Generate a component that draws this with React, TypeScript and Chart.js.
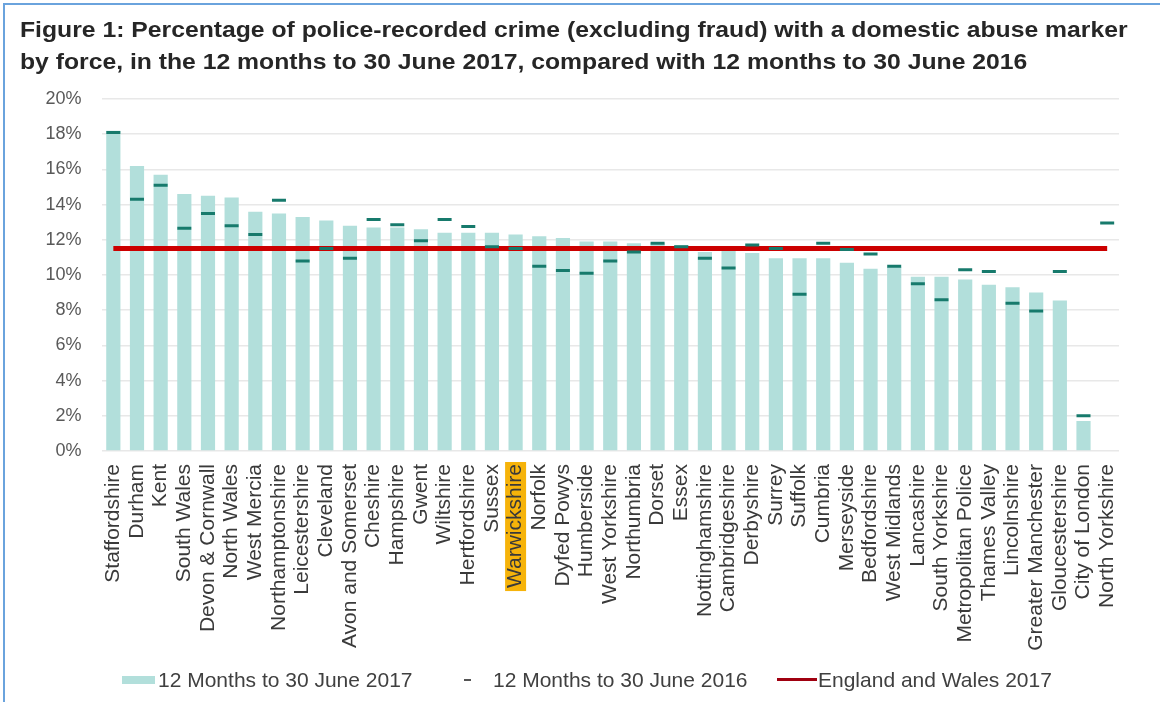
import React, { useEffect, useRef } from "react";
import { Chart, registerables } from "chart.js";

Chart.register(...registerables);

const categories = [
  "Staffordshire", "Durham", "Kent", "South Wales", "Devon & Cornwall", "North Wales",
  "West Mercia", "Northamptonshire", "Leicestershire", "Cleveland", "Avon and Somerset",
  "Cheshire", "Hampshire", "Gwent", "Wiltshire", "Hertfordshire", "Sussex", "Warwickshire",
  "Norfolk", "Dyfed Powys", "Humberside", "West Yorkshire", "Northumbria", "Dorset", "Essex",
  "Nottinghamshire", "Cambridgeshire", "Derbyshire", "Surrey", "Suffolk", "Cumbria",
  "Merseyside", "Bedfordshire", "West Midlands", "Lancashire", "South Yorkshire",
  "Metropolitan Police", "Thames Valley", "Lincolnshire", "Greater Manchester",
  "Gloucestershire", "City of London", "North Yorkshire",
];

const values2017: (number | null)[] = [
  18.2, 16.2, 15.7, 14.6, 14.5, 14.4, 13.6, 13.5, 13.3, 13.1, 12.8,
  12.7, 12.7, 12.6, 12.4, 12.4, 12.4, 12.3,
  12.2, 12.1, 11.9, 11.9, 11.8, 11.8, 11.7,
  11.3, 11.4, 11.25, 10.95, 10.95, 10.95,
  10.7, 10.35, 10.45, 9.9, 9.9,
  9.75, 9.45, 9.3, 9.0,
  8.55, 1.7, null,
];

const values2016 = [
  18.1, 14.3, 15.1, 12.65, 13.5, 12.8, 12.3, 14.25, 10.8, 11.5, 10.95,
  13.15, 12.85, 11.95, 13.15, 12.75, 11.6, 11.5,
  10.5, 10.25, 10.1, 10.8, 11.3, 11.8, 11.6,
  10.95, 10.4, 11.7, 11.5, 8.9, 11.8,
  11.45, 11.2, 10.5, 9.5, 8.6,
  10.3, 10.2, 8.4, 7.95,
  10.2, 2.0, 12.95,
];

const englandWales2017 = [
  11.5, 11.5, 11.5, 11.5, 11.5, 11.5, 11.5, 11.5, 11.5, 11.5, 11.5,
  11.5, 11.5, 11.5, 11.5, 11.5, 11.5, 11.5, 11.5, 11.5, 11.5, 11.5,
  11.5, 11.5, 11.5, 11.5, 11.5, 11.5, 11.5, 11.5, 11.5, 11.5, 11.5,
  11.5, 11.5, 11.5, 11.5, 11.5, 11.5, 11.5, 11.5, 11.5, 11.5,
];

const highlighted = "Warwickshire";
const legendLabels = ["12 Months to 30 June 2017", "12 Months to 30 June 2016", "England and Wales 2017"];
const titleLines = [
  "Figure 1: Percentage of police-recorded crime (excluding fraud) with a domestic abuse marker",
  "by force, in the 12 months to 30 June 2017, compared with 12 months to 30 June 2016",
];

const FONT = '"Liberation Sans", Arial, sans-serif';
const X_FONT_SIZE = 21;
const BAR_COLOR = "#b2dfdb";
const MARKER_COLOR = "#177a6c";
const LINE_COLOR = "#cc0000";

const highlightPlugin = {
  id: "labelHighlight",
  beforeDraw(chart: any) {
    const xs = chart.scales.x;
    const idx = categories.indexOf(highlighted);
    if (idx < 0) return;
    const px = xs.getPixelForTick(idx);
    const ctx = chart.ctx;
    ctx.save();
    ctx.font = `${X_FONT_SIZE}px ${FONT}`;
    const w = ctx.measureText(highlighted).width;
    ctx.fillStyle = "#f6b30a";
    ctx.fillRect(px - 10.5, chart.chartArea.bottom + 11, 21, w + 5);
    ctx.restore();
  },
};

export default function App() {
  const ref = useRef<HTMLCanvasElement | null>(null);

  useEffect(() => {
    if (!ref.current) return;
    const chart = new Chart(ref.current, {
      type: "bar",
      data: {
        labels: categories,
        datasets: [
          {
            type: "line",
            label: legendLabels[1],
            data: values2016,
            showLine: false,
            pointStyle: "line",
            pointRadius: 7,
            pointHoverRadius: 7,
            pointBorderWidth: 3,
            borderColor: MARKER_COLOR,
            backgroundColor: MARKER_COLOR,
            order: 0,
          } as any,
          {
            type: "line",
            label: legendLabels[2],
            data: englandWales2017,
            borderColor: LINE_COLOR,
            borderWidth: 5,
            pointRadius: 0,
            fill: false,
            order: 1,
          } as any,
          {
            type: "bar",
            label: legendLabels[0],
            data: values2017,
            backgroundColor: BAR_COLOR,
            barPercentage: 0.6,
            categoryPercentage: 1,
            order: 2,
          } as any,
        ],
      },
      options: {
        responsive: false,
        animation: false,
        events: [],
        layout: { padding: { top: 99, right: 41, left: 0, bottom: 0 } },
        plugins: {
          legend: { display: false },
          title: { display: false },
          tooltip: { enabled: false },
        },
        scales: {
          x: {
            grid: { display: false, drawTicks: false },
            border: { display: false },
            ticks: {
              autoSkip: false,
              minRotation: 90,
              maxRotation: 90,
              padding: 13,
              color: "#3a3a3a",
              font: { family: FONT, size: X_FONT_SIZE },
            },
            afterFit(scale: any) {
              scale.height = 251;
            },
          },
          y: {
            min: 0,
            max: 20,
            grid: { color: "#e8e8e8", lineWidth: 1.5, drawTicks: false },
            border: { display: false },
            ticks: {
              stepSize: 2,
              padding: 20,
              color: "#595959",
              font: { family: FONT, size: 18 },
              callback: (v: any) => `${v}%`,
            },
            afterFit(scale: any) {
              scale.width = 101.5;
            },
          },
        },
      },
      plugins: [highlightPlugin],
    });
    return () => chart.destroy();
  }, []);

  const legendText: React.CSSProperties = {
    position: "absolute",
    top: 668,
    fontFamily: FONT,
    fontSize: 21,
    lineHeight: "24px",
    color: "#404040",
    whiteSpace: "nowrap",
  };

  return (
    <div style={{ position: "absolute", left: 0, top: 0, width: 1160, height: 702, background: "#fff", overflow: "hidden" }}>
      <div
        style={{
          position: "absolute",
          left: 3,
          top: 3,
          width: 1157,
          height: 699,
          borderTop: "2px solid #6aa3dd",
          borderLeft: "2px solid #6aa3dd",
          boxSizing: "border-box",
        }}
      />
      <canvas ref={ref} width={1160} height={702} style={{ position: "absolute", left: 0, top: 0, width: 1160, height: 702 }} />
      <div
        style={{
          position: "absolute",
          left: 20,
          top: 14,
          fontFamily: FONT,
          fontWeight: "bold",
          fontSize: 22,
          lineHeight: "32px",
          color: "#262626",
          whiteSpace: "nowrap",
          transform: "scaleX(1.124)",
          transformOrigin: "0 0",
        }}
      >
        {titleLines.map((t, i) => (
          <div key={i}>{t}</div>
        ))}
      </div>
      <div style={{ position: "absolute", left: 122, top: 676, width: 33, height: 8, background: BAR_COLOR }} />
      <div style={{ ...legendText, left: 158 }}>{legendLabels[0]}</div>
      <div style={{ position: "absolute", left: 464, top: 679, width: 7, height: 2, background: "#555" }} />
      <div style={{ ...legendText, left: 493 }}>{legendLabels[1]}</div>
      <div style={{ position: "absolute", left: 777, top: 678, width: 40, height: 3, background: "#a00010" }} />
      <div style={{ ...legendText, left: 818 }}>{legendLabels[2]}</div>
    </div>
  );
}
